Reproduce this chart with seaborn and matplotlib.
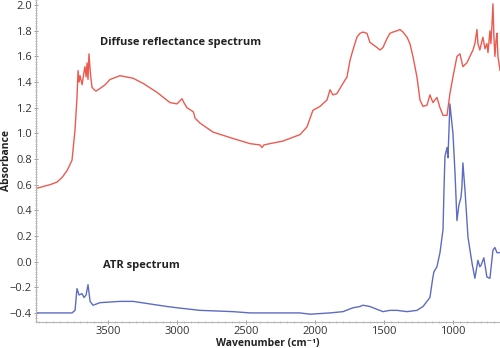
import matplotlib
matplotlib.use("Agg")
import matplotlib.pyplot as plt
from matplotlib.ticker import AutoMinorLocator, MultipleLocator, FixedLocator
import seaborn as sns
import pandas as pd

# Diffuse reflectance spectrum (wavenumber, absorbance)
dr_wavenumber = [4022, 3956, 3920, 3870, 3830, 3797, 3761, 3739, 3725, 3717, 3710, 3703,
                 3688, 3674, 3667, 3659, 3652, 3645, 3638, 3630, 3623, 3616, 3600, 3587,
                 3558, 3520, 3486, 3413, 3319, 3246, 3145, 3051, 3000, 2964, 2950, 2928,
                 2884, 2876, 2870, 2833, 2739, 2594, 2471, 2399, 2384, 2370, 2326, 2232,
                 2159, 2109, 2058, 2015, 1964, 1913, 1891, 1870, 1841, 1797, 1768, 1746,
                 1725, 1696, 1674, 1652, 1623, 1602, 1551, 1529, 1507, 1478, 1457, 1435,
                 1406, 1384, 1362, 1333, 1312, 1290, 1261, 1239, 1217, 1188, 1167, 1145,
                 1116, 1094, 1072, 1043, 1022, 1000, 971, 949, 928, 899, 877, 855, 841,
                 826, 819, 805, 790, 783, 768, 754, 746, 732, 725, 717, 710, 703, 696,
                 688, 681, 674, 667, 659]
dr_absorbance = [0.57, 0.59, 0.60, 0.62, 0.66, 0.71, 0.79, 1.03, 1.28, 1.49, 1.40, 1.45,
                 1.38, 1.48, 1.52, 1.44, 1.55, 1.42, 1.62, 1.50, 1.42, 1.36, 1.34, 1.33,
                 1.35, 1.38, 1.42, 1.45, 1.43, 1.39, 1.32, 1.24, 1.23, 1.27, 1.24, 1.20,
                 1.17, 1.15, 1.12, 1.08, 1.01, 0.96, 0.92, 0.91, 0.89, 0.91, 0.92, 0.94,
                 0.97, 0.99, 1.05, 1.18, 1.21, 1.26, 1.34, 1.30, 1.31, 1.39, 1.44, 1.57,
                 1.65, 1.75, 1.78, 1.79, 1.78, 1.71, 1.67, 1.65, 1.67, 1.74, 1.78, 1.79,
                 1.80, 1.81, 1.79, 1.75, 1.70, 1.60, 1.44, 1.26, 1.21, 1.22, 1.30, 1.24,
                 1.28, 1.20, 1.14, 1.14, 1.31, 1.44, 1.60, 1.62, 1.52, 1.55, 1.60, 1.65, 1.70,
                 1.81, 1.70, 1.65, 1.72, 1.75, 1.66, 1.70, 1.63, 1.80, 1.70, 1.85, 2.01, 1.75, 1.60,
                 1.72, 1.78, 1.60, 1.55, 1.49]

# ATR spectrum (wavenumber, absorbance)
atr_wavenumber = [4022, 3800, 3761, 3739, 3725, 3710, 3688, 3674, 3659, 3645, 3630, 3609,
                  3558, 3413, 3319, 3196, 3072, 3000, 2833, 2594, 2471, 2232, 2109, 2036,
                  1891, 1797, 1725, 1674, 1652, 1602, 1507, 1457, 1406, 1333, 1261, 1217,
                  1167, 1145, 1138, 1116, 1094, 1072, 1065, 1058, 1043, 1036, 1022, 1000,
                  985, 971, 957, 942, 935, 928, 913, 891, 862, 841, 819, 805, 797, 776,
                  754, 732, 710, 696, 681, 659]
atr_absorbance = [-0.40, -0.40, -0.40, -0.38, -0.21, -0.26, -0.25, -0.28, -0.26, -0.18, -0.31, -0.34,
                  -0.32, -0.31, -0.31, -0.33, -0.35, -0.36, -0.38, -0.39, -0.40, -0.40, -0.40, -0.41,
                  -0.40, -0.39, -0.36, -0.35, -0.34, -0.35, -0.39, -0.38, -0.38, -0.39, -0.38, -0.35,
                  -0.28, -0.12, -0.08, -0.04, 0.07, 0.25, 0.56, 0.82, 0.89, 0.81, 1.23, 1.00,
                  0.69, 0.32, 0.44, 0.50, 0.58, 0.77, 0.56, 0.19, -0.01, -0.13, 0.01, -0.04, -0.03, 0.03,
                  -0.12, -0.13, 0.09, 0.11, 0.07, 0.07]

x_ticks = [3500, 3000, 2500, 2000, 1500, 1000]

dr = pd.DataFrame({"Wavenumber": dr_wavenumber, "Absorbance": dr_absorbance})
atr = pd.DataFrame({"Wavenumber": atr_wavenumber, "Absorbance": atr_absorbance})

sns.set_theme(style="white")
plt.rcParams["font.family"] = ["Open Sans", "DejaVu Sans"]

fig = plt.figure(figsize=(5.0, 3.48), dpi=100)
ax = fig.add_axes([0.072, 0.075, 0.928, 0.925])

sns.lineplot(data=dr, x="Wavenumber", y="Absorbance", sort=False, estimator=None,
             color="#ec5a50", linewidth=1.0, ax=ax)
sns.lineplot(data=atr, x="Wavenumber", y="Absorbance", sort=False, estimator=None,
             color="#5d6cc0", linewidth=1.0, ax=ax)

ax.set_xlim(4022, 659)
ax.set_ylim(-0.47, 2.04)
ax.xaxis.set_major_locator(FixedLocator(x_ticks))
ax.yaxis.set_major_locator(MultipleLocator(0.2))
ax.xaxis.set_minor_locator(MultipleLocator(50))
ax.yaxis.set_minor_locator(AutoMinorLocator(10))

for side in ("top", "right"):
    ax.spines[side].set_visible(False)
for side in ("left", "bottom"):
    ax.spines[side].set_color("#b5b5b5")
    ax.spines[side].set_linewidth(0.8)

ax.tick_params(which="major", direction="inout", length=3, width=0.7, color="#999999",
               labelsize=8, labelcolor="#333333", pad=1.5)
ax.tick_params(which="minor", direction="inout", length=1.5, width=0.5, color="#aaaaaa")
ax.tick_params(axis="x", which="both", bottom=True)
ax.tick_params(axis="y", which="both", left=True)

ax.set_xlabel("Wavenumber (cm⁻¹)", fontsize=7.5, fontweight="bold", color="#222222")
ax.set_ylabel("Absorbance", fontsize=7.5, fontweight="bold", color="#222222")
ax.xaxis.set_label_coords(0.5, -0.05)
ax.yaxis.set_label_coords(-0.052, 0.5)

ax.text(3558, 1.71, "Diffuse reflectance spectrum", fontsize=8, fontweight="bold",
        color="#222222", ha="left", va="center")
ax.text(3535, -0.03, "ATR spectrum", fontsize=8, fontweight="bold",
        color="#222222", ha="left", va="center")

fig.savefig("out.png", dpi=100)
